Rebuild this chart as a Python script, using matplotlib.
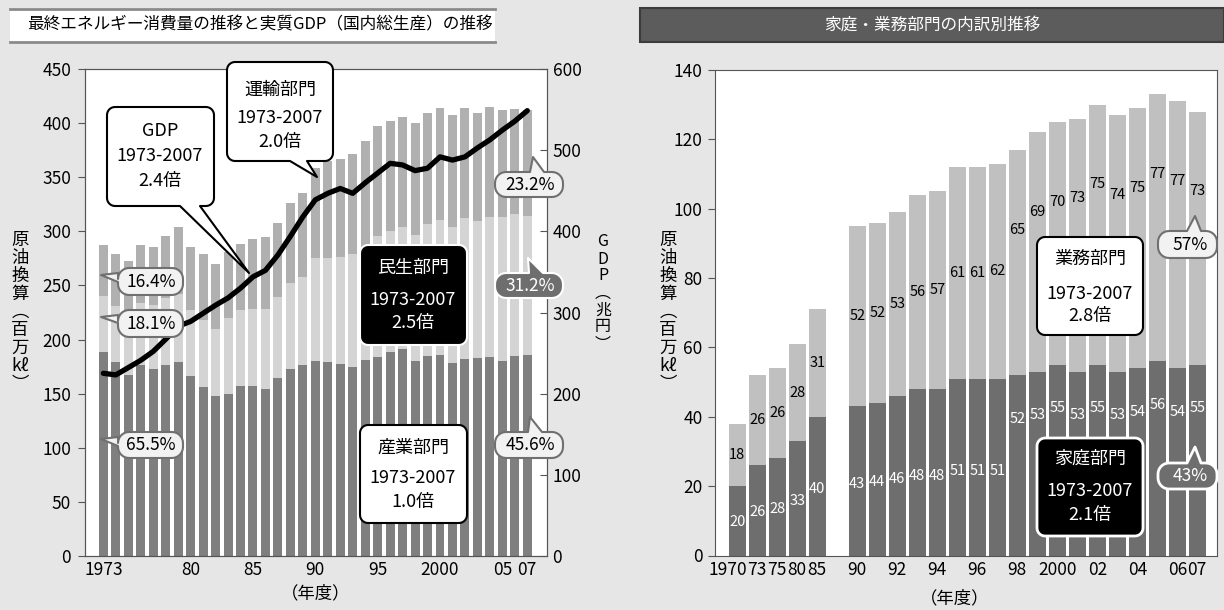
import numpy as np
import matplotlib
matplotlib.use("Agg")
import matplotlib.pyplot as plt
from matplotlib.patches import Polygon, Rectangle
from matplotlib.transforms import ScaledTranslation

plt.rcParams['font.family'] = ['Noto Sans CJK JP', 'DejaVu Sans']

# ---- left chart: final energy consumption (million kl) and real GDP (trillion yen) ----
years = list(range(1973, 2008))
industry = [188, 179, 167, 176, 173, 176, 179, 166, 156, 148, 150, 157, 157, 154, 164, 173, 176,
            180, 179, 177, 175, 181, 184, 188, 191, 180, 185, 186, 178, 182, 183, 184, 180, 185, 186]
civil = [52, 52, 54, 58, 59, 62, 63, 61, 62, 62, 70, 70, 71, 74, 75, 79, 82,
         95, 96, 99, 104, 105, 112, 112, 113, 117, 122, 125, 126, 130, 127, 129, 133, 131, 128]
transport = [47, 48, 52, 53, 54, 58, 62, 59, 61, 60, 61, 61, 65, 67, 69, 74, 78,
             84, 90, 91, 93, 98, 102, 102, 102, 103, 103, 103, 104, 102, 100, 102, 99, 97, 98]
gdp = [225, 223, 232, 241, 252, 267, 283, 289, 299, 309, 318, 330, 344, 352, 371, 394, 418,
       439, 447, 453, 447, 460, 472, 484, 482, 475, 478, 492, 488, 492, 503, 513, 525, 536, 549]
left_ticks = [1973, 1980, 1985, 1990, 1995, 2000, 2005, 2007]
left_ticklabels = ['1973', '80', '85', '90', '95', '2000', '05', '07']

# ---- right chart: household / business breakdown (million kl) ----
r_years = ['1970', '73', '75', '80', '85', '90', '91', '92', '93', '94', '95', '96', '97',
           '98', '99', '2000', '01', '02', '03', '04', '05', '06', '07']
home = [20, 26, 28, 33, 40, 43, 44, 46, 48, 48, 51, 51, 51, 52, 53, 55, 53, 55, 53, 54, 56, 54, 55]
business = [18, 26, 26, 28, 31, 52, 52, 53, 56, 57, 61, 61, 62, 65, 69, 70, 73, 75, 74, 75, 77, 77, 73]
r_shown = ['1970', '73', '75', '80', '85', '90', '92', '94', '96', '98', '2000', '02', '04', '06', '07']

W, H = 1224, 610
BG = '#e6e6e6'
fig = plt.figure(figsize=(W / 100, H / 100), dpi=100, facecolor=BG)


def fx(x):
    return x / W


def fy(y):
    return 1 - y / H


def bubble(x0, y0, x1, y1, r, fc, ec, lw=1.5, tail=None, z=10):
    pts = []

    def arc(cx, cy, a0, a1):
        for t in np.linspace(a0, a1, 8):
            pts.append((cx + r * np.cos(t), cy + r * np.sin(t)))

    arc(x0 + r, y0 + r, np.pi, 1.5 * np.pi)
    if tail and tail[0] == 'top':
        _, a, b, tx, ty = tail
        pts += [(a, y0), (tx, ty), (b, y0)]
    arc(x1 - r, y0 + r, 1.5 * np.pi, 2 * np.pi)
    arc(x1 - r, y1 - r, 0, 0.5 * np.pi)
    if tail and tail[0] == 'bottom':
        _, a, b, tx, ty = tail
        pts += [(b, y1), (tx, ty), (a, y1)]
    arc(x0 + r, y1 - r, 0.5 * np.pi, np.pi)
    if tail and tail[0] == 'left':
        _, a, b, tx, ty = tail
        pts += [(x0, b), (tx, ty), (x0, a)]
    poly = Polygon([(fx(px), fy(py)) for px, py in pts], closed=True, fc=fc, ec=ec, lw=lw,
                   transform=fig.transFigure, zorder=z, joinstyle='round')
    fig.patches.append(poly)


def label(x, y, s, size=13, color='black', **kw):
    fig.text(fx(x), fy(y), s, ha='center', va='center', fontsize=size, color=color, zorder=20, **kw)


# ---- headers ----
fig.patches.append(Rectangle((fx(10), fy(42)), fx(485), 34 / H, fc='white', ec='none',
                             transform=fig.transFigure))
for yy in (9, 42):
    fig.lines.append(plt.Line2D([fx(10), fx(495)], [fy(yy), fy(yy)], color='#8a8a8a', lw=2,
                                transform=fig.transFigure))
fig.text(fx(27), fy(25), '最終エネルギー消費量の推移と実質GDP（国内総生産）の推移',
         ha='left', va='center', fontsize=12)
fig.patches.append(Rectangle((fx(640), fy(42)), fx(584), 34 / H, fc='#5c5c5c', ec='#3c3c3c', lw=1.5,
                             transform=fig.transFigure))
fig.text(fx(932), fy(25), '家庭・業務部門の内訳別推移', ha='center', va='center',
         fontsize=12, color='white')

# ---- left chart ----
ax = fig.add_axes([fx(85), fy(555.7), fx(462), 486.4 / H])
ax.bar(years, industry, width=0.72, color='#7f7f7f')
ax.bar(years, civil, width=0.72, bottom=industry, color='#d4d4d4')
bottom2 = [a + b for a, b in zip(industry, civil)]
ax.bar(years, transport, width=0.72, bottom=bottom2, color='#b0b0b0')
ax.set_xlim(1971.53, 2008.58)
ax.set_ylim(0, 450)
ax.set_yticks(range(0, 451, 50))
ax.set_xticks(left_ticks)
ax.set_xticklabels(left_ticklabels)
ax.tick_params(axis='x', length=0, labelsize=12.5, pad=4)
ax.tick_params(axis='y', length=5, direction='out', color='#555555', labelsize=12.5, pad=5)
for s in ax.spines.values():
    s.set_color('#555555')

ax2 = ax.twinx()
ax2.plot(years, gdp, color='black', lw=3.8, solid_capstyle='round', solid_joinstyle='round')
ax2.set_ylim(0, 600)
ax2.set_yticks(range(0, 601, 100))
ax2.tick_params(axis='y', length=5, direction='in', color='#555555', labelsize=12.5, pad=4)
for s in ax2.spines.values():
    s.set_color('#555555')

fig.text(fx(20), fy(312), '原\n油\n換\n算\n︵\n百\n万\nkℓ\n︶', ha='center', va='center',
         fontsize=12.5, linespacing=1.0)
fig.text(fx(603), fy(293), 'G\nD\nP\n︵\n兆\n円\n︶', ha='center', va='center',
         fontsize=11.5, linespacing=1.0)
fig.text(fx(316), fy(593), '（年度）', ha='center', va='center', fontsize=12.5)

# callouts, left chart
bubble(107, 107, 214, 206, 8, 'white', 'black', tail=('bottom', 180, 200, 249, 273))
label(160, 131, 'GDP')
label(160, 156, '1973-2007')
label(160, 181, '2.4倍')
bubble(227, 62, 333, 161, 8, 'white', 'black', tail=('bottom', 290, 307, 317, 177))
label(280, 90, '運輸部門')
label(280, 118, '1973-2007')
label(280, 142, '2.0倍')
bubble(360, 245, 467, 345, 8, 'black', 'white')
label(413, 268, '民生部門', color='white')
label(413, 300, '1973-2007', color='white')
label(413, 323, '2.5倍', color='white')
bubble(360, 425, 467, 523, 8, 'white', 'black')
label(413, 448, '産業部門')
label(413, 478, '1973-2007')
label(413, 502, '1.0倍')

light, grey = '#f2f2f2', '#6e6e6e'
bubble(118, 268, 183, 295, 11, light, '#707070', tail=('left', 273, 282, 101, 275))
label(151, 282, '16.4%', size=12.5)
bubble(118, 310, 183, 337, 11, light, '#707070', tail=('left', 315, 323, 101, 317))
label(151, 324, '18.1%', size=12.5)
bubble(118, 432, 183, 458, 11, light, '#707070', tail=('left', 437, 446, 101, 439))
label(151, 445, '65.5%', size=12.5)
bubble(495, 172, 563, 197, 11, light, '#707070', tail=('top', 530, 544, 533, 157))
label(530, 185, '23.2%', size=12.5)
bubble(495, 273, 563, 298, 11, grey, '#ffffff', tail=('top', 529, 543, 528, 258))
label(530, 286, '31.2%', size=12.5, color='white')
bubble(495, 432, 563, 458, 11, light, '#707070', tail=('top', 528, 542, 530, 417))
label(530, 445, '45.6%', size=12.5)

# ---- right chart ----
bx = fig.add_axes([fx(715), fy(555.5), fx(502), 485.5 / H])
r_pos = list(range(5)) + list(range(6, 24))
bx.bar(r_pos, home, width=0.83, color='#6e6e6e')
bx.bar(r_pos, business, width=0.83, bottom=home, color='#c0c0c0')
bx.set_xlim(-1.115, 23.985)
bx.set_ylim(0, 140)
bx.set_yticks(range(0, 141, 20))
tick_pos = [r_pos[r_years.index(t)] for t in r_shown]
bx.set_xticks(tick_pos)
bx.set_xticklabels(r_shown)
bx.tick_params(axis='x', length=0, labelsize=12.5, pad=4)
bx.tick_params(axis='y', length=5, direction='out', color='#555555', labelsize=12.5, pad=4)
first = bx.get_xticklabels()[0]
first.set_transform(first.get_transform() + ScaledTranslation(-0.09, 0, fig.dpi_scale_trans))
for s in bx.spines.values():
    s.set_color('#555555')

for i, (p, h, b) in enumerate(zip(r_pos, home, business)):
    late = i >= 13
    hy = h - 12.5 if late else h * 0.48
    by = h + b - 23 if late else h + b / 2
    bx.text(p, hy, str(h), ha='center', va='center', fontsize=10.5, color='white')
    bx.text(p, by, str(b), ha='center', va='center', fontsize=10.5, color='black')

fig.text(fx(668), fy(312), '原\n油\n換\n算\n︵\n百\n万\nkℓ\n︶', ha='center', va='center',
         fontsize=12.5, linespacing=1.0)
fig.text(fx(955), fy(598), '（年度）', ha='center', va='center', fontsize=12.5)

bubble(1037, 237, 1143, 335, 8, 'white', 'black')
label(1090, 259, '業務部門')
label(1090, 294, '1973-2007')
label(1090, 316, '2.8倍')
bubble(1037, 438, 1143, 536, 8, 'black', 'white', lw=2)
label(1090, 459, '家庭部門', color='white')
label(1090, 491, '1973-2007', color='white')
label(1090, 515, '2.1倍', color='white')
bubble(1158, 231, 1217, 258, 11, light, '#707070', tail=('top', 1187, 1201, 1195, 216))
label(1190, 245, '57%', size=12.5)
bubble(1158, 463, 1217, 489, 11, grey, '#ffffff', lw=2, tail=('top', 1187, 1201, 1195, 447))
label(1190, 476, '43%', size=12.5, color='white')

fig.savefig('out.png', dpi=100, facecolor=BG)
